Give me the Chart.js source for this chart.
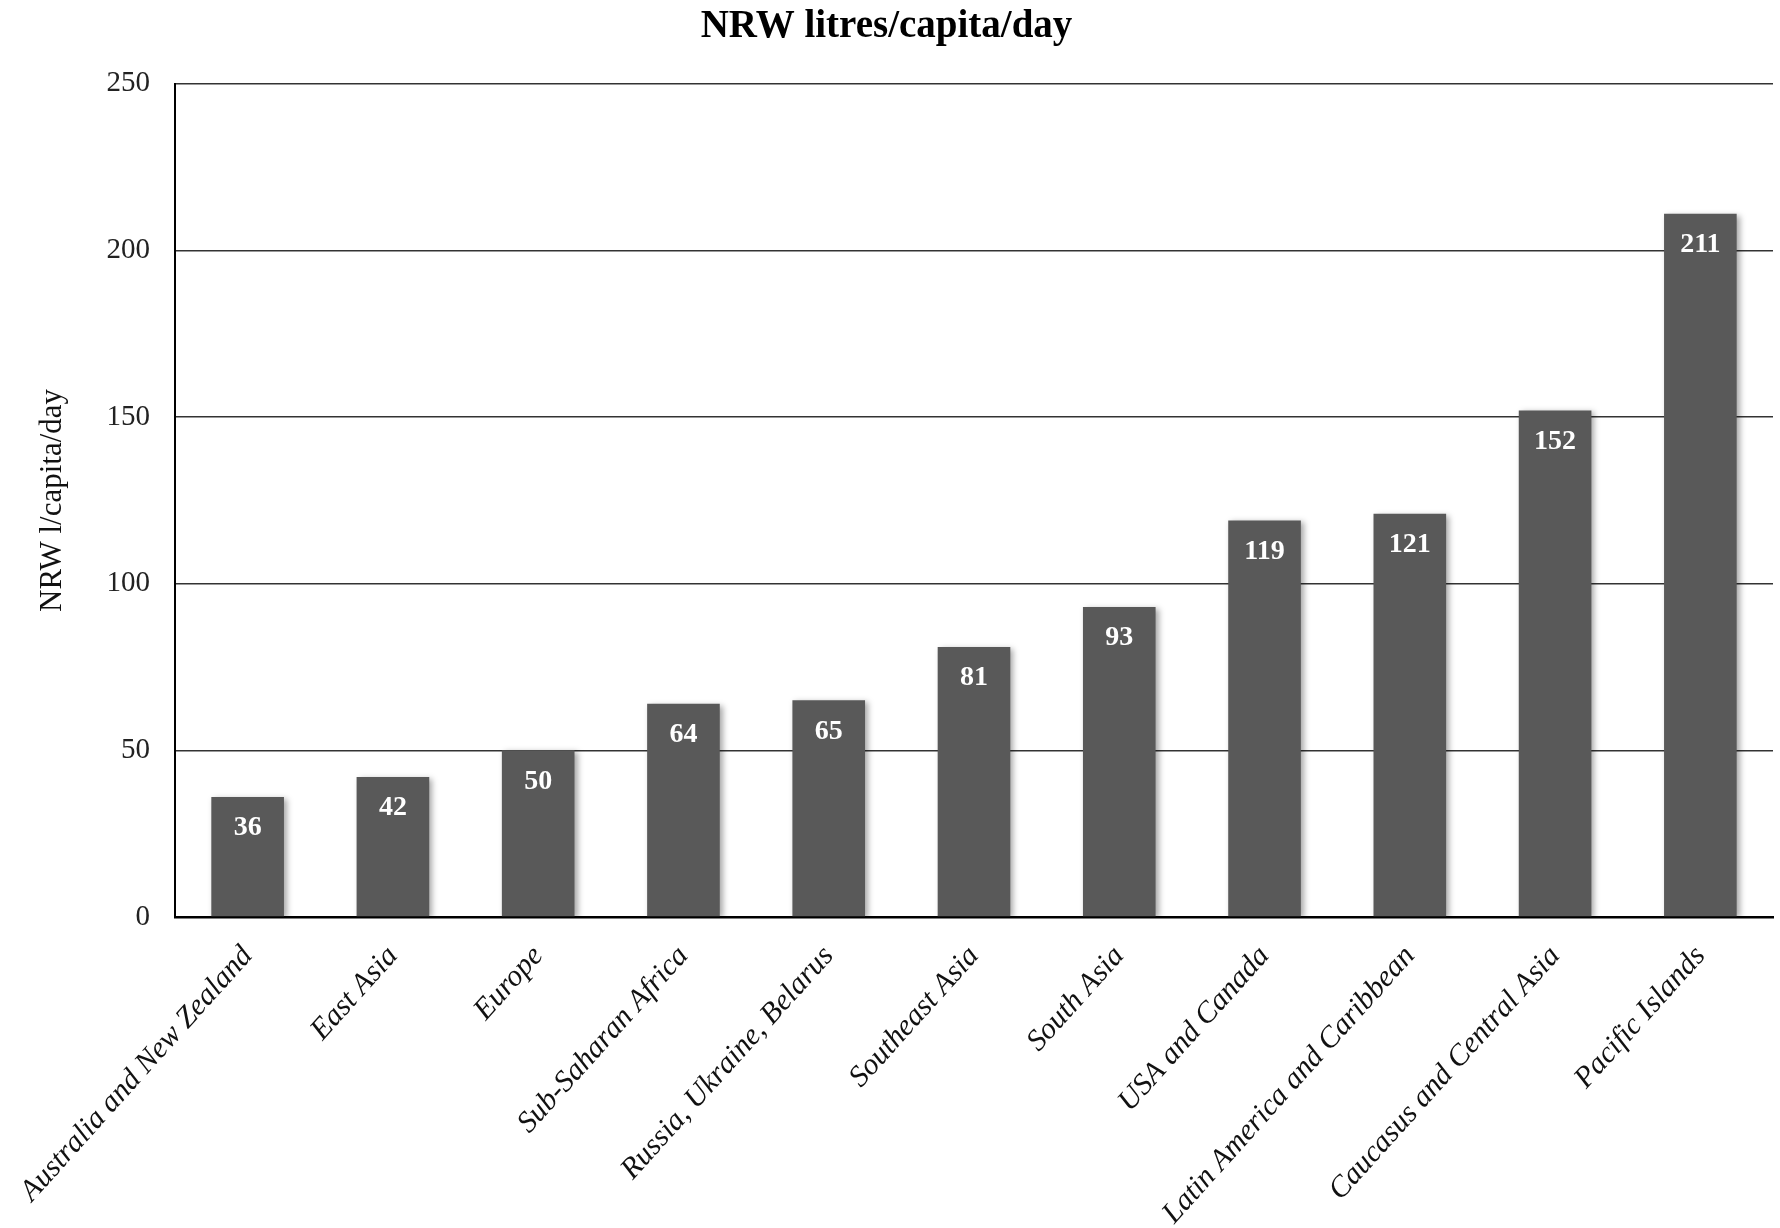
<!DOCTYPE html>
<html>
<head>
<meta charset="utf-8">
<title>NRW litres/capita/day</title>
<script src="https://cdn.jsdelivr.net/npm/chart.js@4.4.1/dist/chart.umd.min.js"></script>
<style>
  html, body { margin: 0; padding: 0; background: #fff; }
  #wrap { width: 1780px; height: 1228px; position: relative; }
</style>
</head>
<body>
<div id="wrap"><canvas id="nrw-chart"></canvas></div>
<script>
const regions = [
  'Australia and New Zealand', 'East Asia', 'Europe', 'Sub-Saharan Africa',
  'Russia, Ukraine, Belarus', 'Southeast Asia', 'South Asia', 'USA and Canada',
  'Latin America and Caribbean', 'Caucasus and Central Asia', 'Pacific Islands'
];
const nrwPerCapita = [36, 42, 50, 64, 65, 81, 93, 119, 121, 152, 211];
const yTicks = [0, 50, 100, 150, 200, 250];

const serif = '"Liberation Serif", "Times New Roman", serif';

// soft drop shadow behind the bars
const barShadow = {
  id: 'barShadow',
  beforeDatasetsDraw(chart) {
    const c = chart.ctx;
    c.save();
    c.shadowColor = 'rgba(0,0,0,0.35)';
    c.shadowBlur = 6;
    c.shadowOffsetX = 3;
    c.shadowOffsetY = 2;
  },
  afterDatasetsDraw(chart) {
    chart.ctx.restore();
  }
};

// white value labels just under each bar top
const valueLabels = {
  id: 'valueLabels',
  afterDatasetsDraw(chart) {
    const c = chart.ctx;
    const meta = chart.getDatasetMeta(0);
    c.save();
    c.fillStyle = '#ffffff';
    c.font = 'bold 28px ' + serif;
    c.textAlign = 'center';
    c.textBaseline = 'middle';
    meta.data.forEach((bar, i) => {
      c.fillText(String(chart.data.datasets[0].data[i]), bar.x, bar.y + 31);
    });
    c.restore();
  }
};

const ctx = document.getElementById('nrw-chart').getContext('2d');
const nrwChart = new Chart(ctx, {
  type: 'bar',
  data: {
    labels: regions,
    datasets: [{
      label: 'NRW l/capita/day',
      data: nrwPerCapita,
      backgroundColor: '#595959',
      borderWidth: 0,
      barPercentage: 0.5,
      categoryPercentage: 1.0
    }]
  },
  options: {
    responsive: true,
    maintainAspectRatio: false,
    animation: false,
    layout: { padding: { left: 0, right: 7, top: 0, bottom: 0 } },
    plugins: {
      legend: { display: false },
      tooltip: { enabled: false },
      title: {
        display: true,
        text: 'NRW litres/capita/day',
        color: '#000',
        font: { family: serif, size: 39, weight: 'bold', lineHeight: 1.2 },
        padding: { top: 4, bottom: 33 }
      }
    },
    scales: {
      x: {
        grid: { display: false, drawTicks: false },
        border: { display: true, color: '#000', width: 2.5 },
        ticks: {
          autoSkip: false,
          minRotation: 48,
          maxRotation: 48,
          padding: 22,
          color: '#111',
          font: { family: serif, size: 30, style: 'italic' }
        },
        afterFit(scale) {
          // long first label may hang past the y axis area
          scale.height = 311;
          scale.paddingLeft = 0;
          scale.paddingRight = 0;
        }
      },
      y: {
        min: 0,
        max: 250,
        afterBuildTicks(scale) {
          scale.ticks = yTicks.map(v => ({ value: v }));
        },
        grid: { color: '#333333', lineWidth: 1.6, drawTicks: false },
        border: { display: true, color: '#000', width: 2 },
        ticks: {
          padding: 25,
          color: '#222',
          font: { family: serif, size: 29 }
        },
        title: {
          display: true,
          text: 'NRW l/capita/day',
          color: '#111',
          font: { family: serif, size: 31 },
          padding: { top: 34, bottom: 0 }
        },
        afterFit(scale) { scale.width = 175; }
      }
    }
  },
  plugins: [barShadow, valueLabels]
});
</script>
</body>
</html>
